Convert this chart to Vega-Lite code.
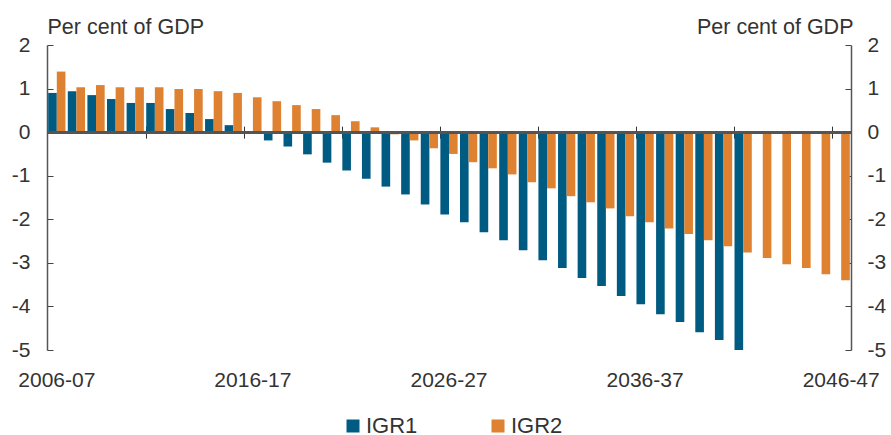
{
  "$schema": "https://vega.github.io/schema/vega-lite/v6.json",
  "width": 804,
  "height": 305,
  "autosize": "none",
  "padding": {"left": 47, "top": 45, "right": 40, "bottom": 85},
  "background": "white",
  "config": {
    "view": {"stroke": null},
    "font": "Liberation Sans",
    "axis": {
      "grid": false,
      "labelFont": "Liberation Sans",
      "labelFontSize": 21,
      "labelColor": "#333333",
      "titleFont": "Liberation Sans",
      "titleFontSize": 21.5,
      "titleFontWeight": "normal",
      "titleColor": "#333333"
    },
    "legend": {
      "labelFont": "Liberation Sans",
      "labelFontSize": 22,
      "labelColor": "#333333"
    }
  },
  "data": {
    "values": [
      {"year": "2006-07", "series": "IGR1", "value": 0.90}, {"year": "2006-07", "series": "IGR2", "value": 1.39},
      {"year": "2007-08", "series": "IGR1", "value": 0.94}, {"year": "2007-08", "series": "IGR2", "value": 1.03},
      {"year": "2008-09", "series": "IGR1", "value": 0.85}, {"year": "2008-09", "series": "IGR2", "value": 1.08},
      {"year": "2009-10", "series": "IGR1", "value": 0.76}, {"year": "2009-10", "series": "IGR2", "value": 1.03},
      {"year": "2010-11", "series": "IGR1", "value": 0.67}, {"year": "2010-11", "series": "IGR2", "value": 1.03},
      {"year": "2011-12", "series": "IGR1", "value": 0.67}, {"year": "2011-12", "series": "IGR2", "value": 1.03},
      {"year": "2012-13", "series": "IGR1", "value": 0.53}, {"year": "2012-13", "series": "IGR2", "value": 0.99},
      {"year": "2013-14", "series": "IGR1", "value": 0.44}, {"year": "2013-14", "series": "IGR2", "value": 0.99},
      {"year": "2014-15", "series": "IGR1", "value": 0.30}, {"year": "2014-15", "series": "IGR2", "value": 0.94},
      {"year": "2015-16", "series": "IGR1", "value": 0.16}, {"year": "2015-16", "series": "IGR2", "value": 0.90},
      {"year": "2016-17", "series": "IGR1", "value": 0.00}, {"year": "2016-17", "series": "IGR2", "value": 0.80},
      {"year": "2017-18", "series": "IGR1", "value": -0.19}, {"year": "2017-18", "series": "IGR2", "value": 0.71},
      {"year": "2018-19", "series": "IGR1", "value": -0.33}, {"year": "2018-19", "series": "IGR2", "value": 0.62},
      {"year": "2019-20", "series": "IGR1", "value": -0.51}, {"year": "2019-20", "series": "IGR2", "value": 0.53},
      {"year": "2020-21", "series": "IGR1", "value": -0.70}, {"year": "2020-21", "series": "IGR2", "value": 0.39},
      {"year": "2021-22", "series": "IGR1", "value": -0.88}, {"year": "2021-22", "series": "IGR2", "value": 0.25},
      {"year": "2022-23", "series": "IGR1", "value": -1.07}, {"year": "2022-23", "series": "IGR2", "value": 0.11},
      {"year": "2023-24", "series": "IGR1", "value": -1.25}, {"year": "2023-24", "series": "IGR2", "value": -0.05},
      {"year": "2024-25", "series": "IGR1", "value": -1.43}, {"year": "2024-25", "series": "IGR2", "value": -0.19},
      {"year": "2025-26", "series": "IGR1", "value": -1.66}, {"year": "2025-26", "series": "IGR2", "value": -0.37},
      {"year": "2026-27", "series": "IGR1", "value": -1.89}, {"year": "2026-27", "series": "IGR2", "value": -0.50},
      {"year": "2027-28", "series": "IGR1", "value": -2.07}, {"year": "2027-28", "series": "IGR2", "value": -0.69},
      {"year": "2028-29", "series": "IGR1", "value": -2.30}, {"year": "2028-29", "series": "IGR2", "value": -0.83},
      {"year": "2029-30", "series": "IGR1", "value": -2.48}, {"year": "2029-30", "series": "IGR2", "value": -0.97},
      {"year": "2030-31", "series": "IGR1", "value": -2.71}, {"year": "2030-31", "series": "IGR2", "value": -1.15},
      {"year": "2031-32", "series": "IGR1", "value": -2.94}, {"year": "2031-32", "series": "IGR2", "value": -1.29},
      {"year": "2032-33", "series": "IGR1", "value": -3.12}, {"year": "2032-33", "series": "IGR2", "value": -1.47},
      {"year": "2033-34", "series": "IGR1", "value": -3.35}, {"year": "2033-34", "series": "IGR2", "value": -1.61},
      {"year": "2034-35", "series": "IGR1", "value": -3.53}, {"year": "2034-35", "series": "IGR2", "value": -1.75},
      {"year": "2035-36", "series": "IGR1", "value": -3.76}, {"year": "2035-36", "series": "IGR2", "value": -1.93},
      {"year": "2036-37", "series": "IGR1", "value": -3.95}, {"year": "2036-37", "series": "IGR2", "value": -2.07},
      {"year": "2037-38", "series": "IGR1", "value": -4.18}, {"year": "2037-38", "series": "IGR2", "value": -2.21},
      {"year": "2038-39", "series": "IGR1", "value": -4.36}, {"year": "2038-39", "series": "IGR2", "value": -2.34},
      {"year": "2039-40", "series": "IGR1", "value": -4.59}, {"year": "2039-40", "series": "IGR2", "value": -2.48},
      {"year": "2040-41", "series": "IGR1", "value": -4.77}, {"year": "2040-41", "series": "IGR2", "value": -2.62},
      {"year": "2041-42", "series": "IGR1", "value": -5.00}, {"year": "2041-42", "series": "IGR2", "value": -2.76},
      {"year": "2042-43", "series": "IGR2", "value": -2.89},
      {"year": "2043-44", "series": "IGR2", "value": -3.03},
      {"year": "2044-45", "series": "IGR2", "value": -3.12},
      {"year": "2045-46", "series": "IGR2", "value": -3.26},
      {"year": "2046-47", "series": "IGR2", "value": -3.40}
    ]
  },
  "layer": [
    {
      "mark": {"type": "bar"},
      "encoding": {
        "x": {
          "field": "year",
          "type": "ordinal",
          "sort": null,
          "scale": {"paddingInner": 0.12, "paddingOuter": 0.06},
          "axis": {
            "orient": "bottom",
            "offset": -223.86,
            "domain": false,
            "labels": false,
            "ticks": true,
            "tickSize": 12,
            "tickColor": "#333333",
            "tickWidth": 1,
            "bandPosition": 0,
            "values": ["2011-12", "2016-17", "2021-22", "2026-27", "2031-32", "2036-37", "2041-42", "2046-47"],
            "title": null
          }
        },
        "xOffset": {"field": "series", "type": "nominal", "sort": ["IGR1", "IGR2"], "scale": {"paddingInner": 0}},
        "y": {
          "field": "value",
          "type": "quantitative",
          "scale": {"domain": [-5, 2], "nice": false, "zero": false},
          "axis": {
            "orient": "left",
            "values": [-5, -4, -3, -2, -1, 0, 1, 2],
            "labelExpr": "'' + datum.value",
            "tickSize": -6,
            "tickColor": "#444444",
            "domainColor": "#555555",
            "domainWidth": 1.5,
            "labelPadding": 23,
            "title": "Per cent of GDP",
            "titleAngle": 0,
            "titleAlign": "left",
            "titleBaseline": "alphabetic",
            "titleX": 0,
            "titleY": -12
          }
        },
        "color": {
          "field": "series",
          "type": "nominal",
          "scale": {"domain": ["IGR1", "IGR2"], "range": ["#005b82", "#de8130"]},
          "legend": {
            "orient": "none",
            "direction": "horizontal",
            "legendX": 295,
            "legendY": 370,
            "title": null,
            "symbolType": "square",
            "symbolSize": 169,
            "symbolStrokeWidth": 0,
            "labelOffset": 2,
            "columnPadding": 69,
            "padding": 0,
            "labelLimit": 300
          }
        }
      }
    },
    {
      "mark": {"type": "rule", "color": "#555555", "strokeWidth": 2},
      "encoding": {"y": {"datum": 0, "type": "quantitative", "axis": null}}
    },
    {
      "mark": {"type": "bar", "opacity": 0},
      "encoding": {
        "x": {
          "field": "year",
          "type": "ordinal",
          "sort": null,
          "axis": {
            "orient": "bottom",
            "ticks": false,
            "domain": false,
            "labelAngle": 0,
            "labelOverlap": false,
            "labelPadding": 19,
            "values": ["2006-07", "2016-17", "2026-27", "2036-37", "2046-47"],
            "title": null
          }
        },
        "y": {
          "field": "value",
          "type": "quantitative",
          "stack": null,
          "axis": {
            "orient": "right",
            "values": [-5, -4, -3, -2, -1, 0, 1, 2],
            "labelExpr": "'' + datum.value",
            "tickSize": -6,
            "tickColor": "#444444",
            "domainColor": "#555555",
            "domainWidth": 1.5,
            "labelPadding": 22,
            "title": "Per cent of GDP",
            "titleAngle": 0,
            "titleAlign": "right",
            "titleBaseline": "alphabetic",
            "titleX": 2,
            "titleY": -12
          }
        }
      }
    }
  ],
  "resolve": {"axis": {"x": "independent", "y": "independent"}}
}
